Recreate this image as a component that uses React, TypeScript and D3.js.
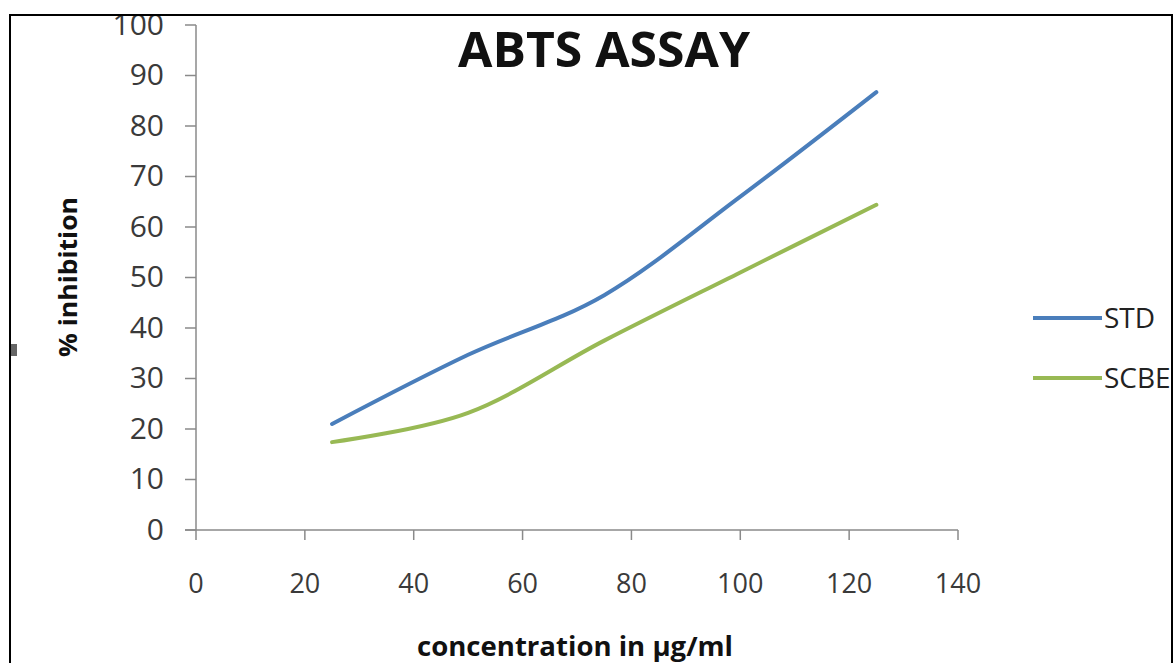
import React from "react";
import * as d3 from "d3";

const concentrations = [25, 50, 75, 100, 125];
const stdValues = [21, 34.7, 46.5, 66, 86.7];
const scbeValues = [17.4, 23.2, 37.5, 51, 64.4];
const seriesNames = ["STD", "SCBE"];
const seriesColors = ["#4A7EBB", "#98B954"];
const xTicks = [0, 20, 40, 60, 80, 100, 120, 140];
const yTicks = [0, 10, 20, 30, 40, 50, 60, 70, 80, 90, 100];

const W = 1174;
const H = 663;
const FONT = "'Open Sans', 'Liberation Sans', sans-serif";

export default function App() {
  const x = d3.scaleLinear().domain([0, 140]).range([196, 958]);
  const y = d3.scaleLinear().domain([0, 100]).range([530, 25]);
  const line = d3
    .line<[number, number]>()
    .x((d) => x(d[0]))
    .y((d) => y(d[1]))
    .curve(d3.curveCardinal.tension(0));
  const series = [stdValues, scbeValues].map((vals) =>
    concentrations.map((c, i) => [c, vals[i]] as [number, number])
  );
  const axisColor = "#8a8a8a";

  return (
    <svg
      width={W}
      height={H}
      style={{ position: "absolute", left: 0, top: 0, background: "#fff" }}
    >
      <defs>
        <clipPath id="inner">
          <rect x={11} y={16} width={1160} height={H} />
        </clipPath>
      </defs>
      <rect x={0} y={0} width={W} height={H} fill="#fff" />
      <g clipPath="url(#inner)">
        {/* title */}
        <text
          x={604}
          y={67}
          textAnchor="middle"
          fontFamily={FONT}
          fontWeight="bold"
          fontSize={49}
          textLength={292}
          lengthAdjust="spacingAndGlyphs"
          fill="#111"
        >
          ABTS ASSAY
        </text>
        {/* y axis */}
        <line x1={x(0)} x2={x(0)} y1={y(100)} y2={y(0)} stroke={axisColor} strokeWidth={1.5} />
        {yTicks.map((t) => (
          <g key={"y" + t}>
            <line x1={185} x2={x(0)} y1={y(t)} y2={y(t)} stroke={axisColor} strokeWidth={1.5} />
            <text
              x={164}
              y={y(t) - 1}
              dy="0.36em"
              textAnchor="end"
              fontFamily={FONT}
              fontSize={30}
              fill="#3a3a3a"
            >
              {t}
            </text>
          </g>
        ))}
        {/* x axis */}
        <line x1={185} x2={x(140)} y1={y(0)} y2={y(0)} stroke={axisColor} strokeWidth={1.5} />
        {xTicks.map((t) => (
          <g key={"x" + t}>
            <line x1={x(t)} x2={x(t)} y1={y(0)} y2={y(0) + 10} stroke={axisColor} strokeWidth={1.5} />
            <text
              x={x(t)}
              y={584}
              dy="0.35em"
              textAnchor="middle"
              fontFamily={FONT}
              fontSize={27}
              fill="#3a3a3a"
            >
              {t}
            </text>
          </g>
        ))}
        {/* axis titles */}
        <text
          x={575}
          y={656}
          textAnchor="middle"
          fontFamily={FONT}
          fontWeight="bold"
          fontSize={26}
          textLength={316}
          lengthAdjust="spacingAndGlyphs"
          fill="#111"
        >
          concentration in µg/ml
        </text>
        <text
          transform="translate(77,277) rotate(-90)"
          textAnchor="middle"
          fontFamily={FONT}
          fontWeight="bold"
          fontSize={25}
          textLength={160}
          lengthAdjust="spacingAndGlyphs"
          fill="#111"
        >
          % inhibition
        </text>
        {/* lines */}
        {series.map((s, i) => (
          <path
            key={seriesNames[i]}
            d={line(s) || ""}
            fill="none"
            stroke={seriesColors[i]}
            strokeWidth={4}
            strokeLinecap="round"
          />
        ))}
        {/* legend */}
        {seriesNames.map((n, i) => (
          <g key={"lg" + n}>
            <line
              x1={1033}
              x2={1102}
              y1={318 + i * 60}
              y2={318 + i * 60}
              stroke={seriesColors[i]}
              strokeWidth={4}
            />
            <text
              x={1104}
              y={318 + i * 60}
              dy="0.35em"
              fontFamily={FONT}
              fontSize={28}
              fill="#222"
            >
              {n}
            </text>
          </g>
        ))}
        <rect x={11} y={344} width={6} height={12} fill="#666" />
      </g>
      {/* border */}
      <line x1={10} x2={10} y1={14} y2={H} stroke="#000" strokeWidth={2} />
      <line x1={1172} x2={1172} y1={14} y2={H} stroke="#000" strokeWidth={2} />
      <line x1={9} x2={1173} y1={15} y2={15} stroke="#000" strokeWidth={2} />
    </svg>
  );
}
